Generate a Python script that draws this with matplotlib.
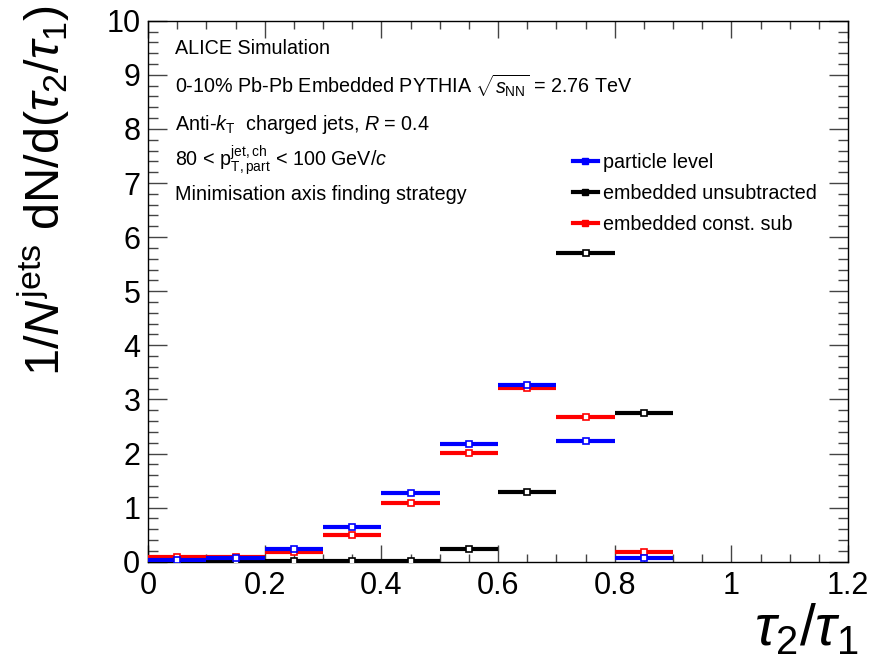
import numpy as np
import matplotlib
matplotlib.use("Agg")
import matplotlib.pyplot as plt
from matplotlib.lines import Line2D
from matplotlib.ticker import MultipleLocator

plt.rcParams['font.family'] = ['Liberation Sans', 'DejaVu Sans']
plt.rcParams['mathtext.fontset'] = 'custom'
plt.rcParams['mathtext.rm'] = 'Liberation Sans'
plt.rcParams['mathtext.it'] = 'Liberation Sans:italic'
plt.rcParams['mathtext.bf'] = 'Liberation Sans:bold'

# Data
bin_edges = [0.0, 0.1, 0.2, 0.3, 0.4, 0.5, 0.6, 0.7, 0.8, 0.9]
particle_level = [0.03, 0.06, 0.23, 0.65, 1.27, 2.18, 3.27, 2.23, 0.07]
embedded_unsub = [0.005, 0.005, 0.005, 0.005, 0.01, 0.23, 1.28, 5.70, 2.75]
embedded_constsub = [0.08, 0.09, 0.18, 0.50, 1.08, 2.01, 3.21, 2.67, 0.18]
series_labels = ["particle level", "embedded unsubtracted", "embedded const. sub"]
x_ticks = [0, 0.2, 0.4, 0.6, 0.8, 1.0, 1.2]
x_tick_labels = ["0", "0.2", "0.4", "0.6", "0.8", "1", "1.2"]
y_ticks = list(range(0, 11))

edges = np.array(bin_edges)
centers = 0.5 * (edges[:-1] + edges[1:])
half_w = 0.5 * (edges[1:] - edges[:-1])

fig = plt.figure(figsize=(8.75, 6.6), dpi=100)
ax = fig.add_axes([148/875, 1 - 561.7/660, 700/875, (561.7 - 20.7)/660])

colors = {"particle level": "#0000ff", "embedded unsubtracted": "#000000",
          "embedded const. sub": "#ff0000"}
series = {"particle level": particle_level,
          "embedded unsubtracted": embedded_unsub,
          "embedded const. sub": embedded_constsub}

for name in ["embedded unsubtracted", "embedded const. sub", "particle level"]:
    c = colors[name]
    ax.errorbar(centers, series[name], xerr=half_w, fmt='s', ms=4.8,
                mfc='white', mec=c, mew=1.2, ecolor=c, elinewidth=3.0,
                capsize=0, zorder=3)

ax.set_xlim(0, 1.2)
ax.set_ylim(0, 10)
ax.set_xticks(x_ticks)
ax.set_xticklabels(x_tick_labels)
ax.set_yticks(y_ticks)
ax.set_yticklabels([str(v) for v in y_ticks])
ax.xaxis.set_minor_locator(MultipleLocator(0.05))
ax.yaxis.set_minor_locator(MultipleLocator(0.2))
ax.tick_params(axis='both', which='both', direction='in', top=True, right=True,
               labelsize=22, color='#444444', width=1.0)
ax.tick_params(axis='y', which='major', length=14, pad=5.5)
ax.tick_params(axis='y', which='minor', length=7)
ax.tick_params(axis='x', which='major', length=12, pad=7)
ax.tick_params(axis='x', which='minor', length=5.5)
for s in ax.spines.values():
    s.set_linewidth(1.0)
    s.set_color('black')

# Annotations
tx = 175/875
fs = 14.2
fig.text(tx, 1 - 48/660, "ALICE Simulation", fontsize=fs, va='center')
fig.text(tx, 1 - 86/660, r"0-10% Pb-Pb Embedded PYTHIA $\sqrt{s_{\rm NN}}$ = 2.76 TeV",
         fontsize=fs, va='center')
fig.text(tx, 1 - 124/660, r"Anti-$k_{\rm T}$  charged jets, $R$ = 0.4", fontsize=fs, va='center')
fig.text(tx, 1 - 160/660, r"80 < $\mathrm{p}^{\rm jet,ch}_{\rm T,part}$ < 100 GeV/$c$",
         fontsize=fs, va='center')
fig.text(tx, 1 - 195/660, "Minimisation axis finding strategy", fontsize=fs, va='center')

handles = [Line2D([0], [0], color=colors[n], lw=3.0, marker='s', ms=4.5,
                  mfc=colors[n], mec=colors[n]) for n in series_labels]
fig.legend(handles, series_labels, loc='upper left',
           bbox_to_anchor=(563/875, 1 - 143/660), frameon=False, fontsize=fs,
           handlelength=1.25, handletextpad=0.3, labelspacing=0.62, borderpad=0)

fig.text(44/875, 1 - 5/660,
         r"1/$N^{\rm jets}$ dN/d($\tau_{\mathit{2}}/\tau_{\mathit{1}}$)", fontsize=35,
         rotation=90, ha='center', va='top')
fig.text(858/875, 1 - 657/660, r"$\tau_{\mathit{2}}/\tau_{\mathit{1}}$", fontsize=41,
         ha='right', va='bottom')

fig.savefig("out.png", dpi=100)
